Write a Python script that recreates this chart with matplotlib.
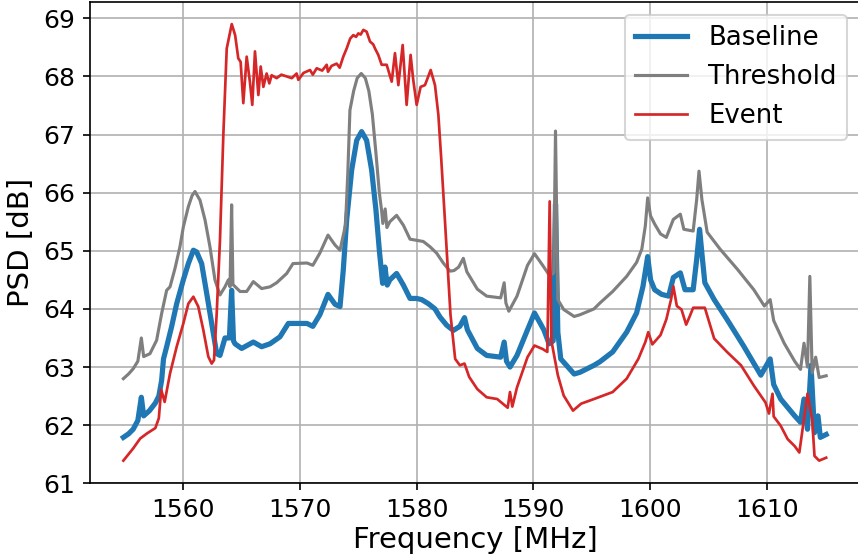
import matplotlib
matplotlib.use("Agg")
import matplotlib.pyplot as plt

threshold_f = [1554.86, 1555.3, 1555.7, 1556.1, 1556.4, 1556.6, 1557.14, 1557.71, 1558.14, 1558.57, 1558.86,
               1559.29, 1559.71, 1560.0, 1560.43, 1560.75, 1561.0, 1561.43, 1561.86, 1562.28, 1562.71, 1563.14,
               1563.57, 1563.86, 1564.0, 1564.14, 1564.25, 1564.86, 1565.43, 1566.0, 1566.71, 1567.43, 1568.0,
               1568.86, 1569.4, 1570.6, 1571.1, 1571.7, 1572.4, 1573.0, 1573.43, 1573.9, 1574.1, 1574.28,
               1574.6, 1574.9, 1575.25, 1575.6, 1575.9, 1576.2, 1576.5, 1576.8, 1576.99, 1577.1, 1577.3,
               1577.45, 1577.7, 1578.28, 1578.86, 1579.43, 1580.0, 1580.57, 1581.14, 1581.71, 1582.28,
               1582.86, 1583.2, 1583.6, 1584.0, 1584.3, 1585.2, 1586.0, 1587.2, 1587.5, 1587.65, 1587.9,
               1588.6, 1589.5, 1590.1, 1590.8, 1591.4, 1591.75, 1591.9, 1592.1, 1592.6, 1593.5, 1594.0, 1595.2,
               1595.7, 1596.8, 1598.0, 1598.85, 1599.3, 1599.6, 1599.8, 1600.05, 1600.4, 1600.9, 1601.4, 1602.0,
               1602.6, 1602.9, 1603.7, 1604.0, 1604.2, 1604.45, 1604.9, 1606.0, 1607.5, 1608.9, 1609.8, 1610.3,
               1610.6, 1611.5, 1612.4, 1612.9, 1613.2, 1613.5, 1613.7, 1613.9, 1614.2, 1614.5, 1615.1]
threshold_db = [62.80, 62.88, 62.97, 63.10, 63.50, 63.18, 63.23, 63.46, 63.92, 64.32, 64.38,
                64.70, 65.07, 65.41, 65.76, 65.95, 66.02, 65.87, 65.53, 65.07, 64.50, 64.24,
                64.38, 64.50, 64.38, 65.79, 64.42, 64.30, 64.30, 64.47, 64.35, 64.38, 64.45,
                64.61, 64.78, 64.79, 64.75, 64.96, 65.27, 65.10, 65.01, 65.44, 66.35, 67.42,
                67.75, 67.97, 68.05, 67.97, 67.75, 67.35, 66.70, 66.00, 65.70, 65.47, 65.72,
                65.40, 65.50, 65.61, 65.44, 65.20, 65.18, 65.16, 65.07, 64.96, 64.79,
                64.65, 64.66, 64.72, 64.87, 64.64, 64.34, 64.22, 64.19, 64.45, 64.10, 63.96,
                64.22, 64.75, 64.95, 64.75, 64.57, 64.62, 67.06, 64.16, 63.99, 63.87, 63.90, 64.00,
                64.10, 64.30, 64.56, 64.80, 65.03, 65.43, 65.91, 65.60, 65.46, 65.29, 65.23, 65.54,
                65.63, 65.37, 65.34, 65.88, 66.37, 65.88, 65.32, 65.03, 64.68, 64.33, 64.05, 64.16,
                63.80, 63.41, 63.10, 62.96, 63.41, 63.00, 64.56, 62.90, 63.17, 62.82, 62.85]

baseline_f = [1554.86, 1555.3, 1555.7, 1556.1, 1556.4, 1556.6, 1557.1, 1557.6, 1557.9, 1558.14, 1558.3, 1558.57,
              1558.99, 1559.43, 1560.0, 1560.43, 1560.86, 1561.14, 1561.57, 1562.0, 1562.43, 1562.86, 1563.14,
              1563.57, 1563.95, 1564.14, 1564.3, 1564.43, 1565.0, 1566.0, 1566.71, 1567.43, 1568.28, 1569.0,
              1570.6, 1571.1, 1571.7, 1572.4, 1573.0, 1573.43, 1573.71, 1574.0, 1574.43, 1574.86, 1575.28,
              1575.71, 1576.14, 1576.51, 1576.8, 1577.08, 1577.28, 1577.48, 1577.7, 1578.28, 1578.86, 1579.43,
              1580.0, 1580.43, 1581.0, 1581.57, 1582.0, 1582.57, 1583.14, 1583.7, 1584.1, 1584.35, 1585.2,
              1586.0, 1587.2, 1587.5, 1587.7, 1588.0, 1588.6, 1589.5, 1590.1, 1590.9, 1591.35, 1591.7, 1591.9,
              1592.1, 1592.35, 1593.5, 1594.0, 1595.2, 1595.7, 1596.8, 1598.0, 1598.85, 1599.4, 1599.8, 1600.05,
              1600.4, 1601.0, 1601.6, 1602.0, 1602.6, 1603.0, 1603.7, 1604.0, 1604.25, 1604.5, 1604.7, 1605.5,
              1606.6, 1608.0, 1609.5, 1610.3, 1610.6, 1611.2, 1612.4, 1612.9, 1613.2, 1613.5, 1613.8, 1614.1,
              1614.4, 1614.6, 1615.1]
baseline_db = [61.79, 61.85, 61.93, 62.08, 62.48, 62.16, 62.25, 62.38, 62.50, 62.77, 63.14, 63.35,
               63.69, 64.09, 64.50, 64.78, 65.01, 64.98, 64.78, 64.27, 63.75, 63.23, 63.20,
               63.50, 63.50, 64.32, 63.45, 63.40, 63.32, 63.43, 63.35, 63.40, 63.52, 63.75,
               63.75, 63.70, 63.90, 64.25, 64.08, 64.04, 64.67, 65.53, 66.39, 66.90, 67.05,
               66.90, 66.39, 65.70, 65.01, 64.44, 64.72, 64.41, 64.50, 64.61, 64.41, 64.18,
               64.18, 64.16, 64.09, 64.00, 63.86, 63.72, 63.63, 63.70, 63.85, 63.64, 63.32,
               63.20, 63.17, 63.43, 63.10, 63.00, 63.20, 63.64, 63.93, 63.64, 63.40, 63.45, 65.80,
               63.60, 63.14, 62.88, 62.91, 63.03, 63.09, 63.26, 63.60, 63.93, 64.39, 64.90, 64.50,
               64.33, 64.25, 64.22, 64.54, 64.62, 64.33, 64.33, 64.85, 65.37, 64.85, 64.45, 64.16,
               63.82, 63.37, 62.86, 63.14, 62.70, 62.45, 62.16, 62.05, 62.45, 61.93, 63.03, 61.87,
               62.16, 61.79, 61.84]

event_f = [1554.86, 1555.7, 1556.3, 1556.9, 1557.6, 1557.9, 1558.1, 1558.4, 1558.86, 1559.43, 1560.0, 1560.43,
           1560.86, 1561.28, 1561.71, 1562.14, 1562.43, 1562.63, 1562.86, 1563.14, 1563.43, 1563.72, 1564.15,
           1564.44, 1564.71, 1564.91, 1565.14, 1565.43, 1565.71, 1565.91, 1566.14, 1566.43, 1566.63, 1566.86,
           1567.14, 1567.37, 1567.57, 1568.0, 1568.4, 1568.86, 1569.3, 1569.71, 1569.86, 1570.3, 1570.86,
           1571.1, 1571.43, 1571.9, 1572.29, 1572.4, 1572.7, 1573.14, 1573.4, 1573.71, 1574.0, 1574.3,
           1574.57, 1574.8, 1575.0, 1575.2, 1575.43, 1575.71, 1576.0, 1576.28, 1576.43, 1576.71, 1577.0,
           1577.43, 1577.86, 1578.14, 1578.43, 1578.8, 1579.14, 1579.48, 1579.7, 1580.0, 1580.34, 1580.71,
           1581.2, 1581.57, 1581.86, 1582.1, 1582.4, 1582.9, 1583.3, 1583.7, 1584.1, 1584.5, 1585.2,
           1586.0, 1586.9, 1587.8, 1588.0, 1588.2, 1588.6, 1589.5, 1590.1, 1590.8, 1591.2, 1591.4, 1591.55,
           1592.1, 1592.6, 1593.4, 1594.1, 1595.2, 1596.8, 1598.0, 1599.0, 1599.6, 1599.85, 1600.2, 1600.9,
           1601.4, 1601.8, 1602.0, 1602.3, 1602.7, 1603.1, 1603.4, 1603.7, 1604.3, 1604.7, 1605.0, 1605.5,
           1606.6, 1607.8, 1608.9, 1609.9, 1610.2, 1610.5, 1610.6, 1611.2, 1611.8, 1612.4, 1612.8, 1613.2,
           1613.5, 1613.9, 1614.1, 1614.5, 1615.1]
event_db = [61.39, 61.60, 61.77, 61.86, 61.95, 62.12, 62.61, 62.40, 62.89, 63.35, 63.75, 64.09,
            64.21, 64.04, 63.64, 63.18, 63.06, 63.12, 63.92, 65.18, 67.00, 68.48, 68.90,
            68.71, 68.31, 68.25, 67.54, 68.34, 67.90, 67.51, 68.43, 67.68, 68.17, 67.82,
            68.05, 67.88, 68.02, 67.97, 68.03, 68.00, 67.97, 68.05, 67.94, 68.06, 68.11,
            68.03, 68.14, 68.10, 68.20, 68.08, 68.18, 68.22, 68.15, 68.34, 68.48, 68.65,
            68.71, 68.68, 68.74, 68.72, 68.80, 68.77, 68.60, 68.55, 68.48, 68.37, 68.20,
            68.20, 67.91, 68.40, 67.85, 68.54, 67.51, 68.37, 67.95, 67.51, 67.82, 67.85,
            68.11, 67.85, 67.34, 66.60, 65.60, 63.90, 63.14, 63.03, 63.06, 62.83, 62.62,
            62.48, 62.45, 62.30, 62.57, 62.32, 62.65, 63.17, 63.37, 63.31, 63.26, 65.85, 63.45,
            62.86, 62.51, 62.25, 62.37, 62.45, 62.57, 62.80, 63.14, 63.43, 63.60, 63.39, 63.55,
            63.82, 64.16, 64.39, 64.05, 63.99, 63.73, 63.87, 64.02, 64.02, 64.02, 63.82, 63.49,
            63.26, 63.03, 62.68, 62.39, 62.20, 62.54, 62.15, 61.99, 61.76, 61.64, 61.53, 62.10,
            62.54, 62.10, 61.47, 61.39, 61.44]

xticks = [1560, 1570, 1580, 1590, 1600, 1610]
yticks = [61, 62, 63, 64, 65, 66, 67, 68, 69]

fig = plt.figure(figsize=(858 / 150, 555 / 150), dpi=150)
ax = fig.add_axes([90 / 858, 71.7 / 555, 770 / 858, 481.3 / 555])

ax.plot(baseline_f, baseline_db, color="#1f77b4", lw=2.5, label="Baseline")
ax.plot(threshold_f, threshold_db, color="#7f7f7f", lw=1.5, label="Threshold")
ax.plot(event_f, event_db, color="#d62728", lw=1.3, label="Event")

ax.set_xlim(1552, 1618)
ax.set_ylim(61.0, 69.28)
ax.set_xticks(xticks)
ax.set_yticks(yticks)
ax.tick_params(labelsize=12)
ax.grid(True, color="#b0b0b0", lw=0.8)
ax.set_axisbelow(True)
ax.set_xlabel("Frequency [MHz]", fontsize=14, labelpad=2)
ax.set_ylabel("PSD [dB]", fontsize=14, labelpad=4)
ax.legend(loc="upper right", fontsize=12.5)

fig.savefig("out.png", dpi=150)
